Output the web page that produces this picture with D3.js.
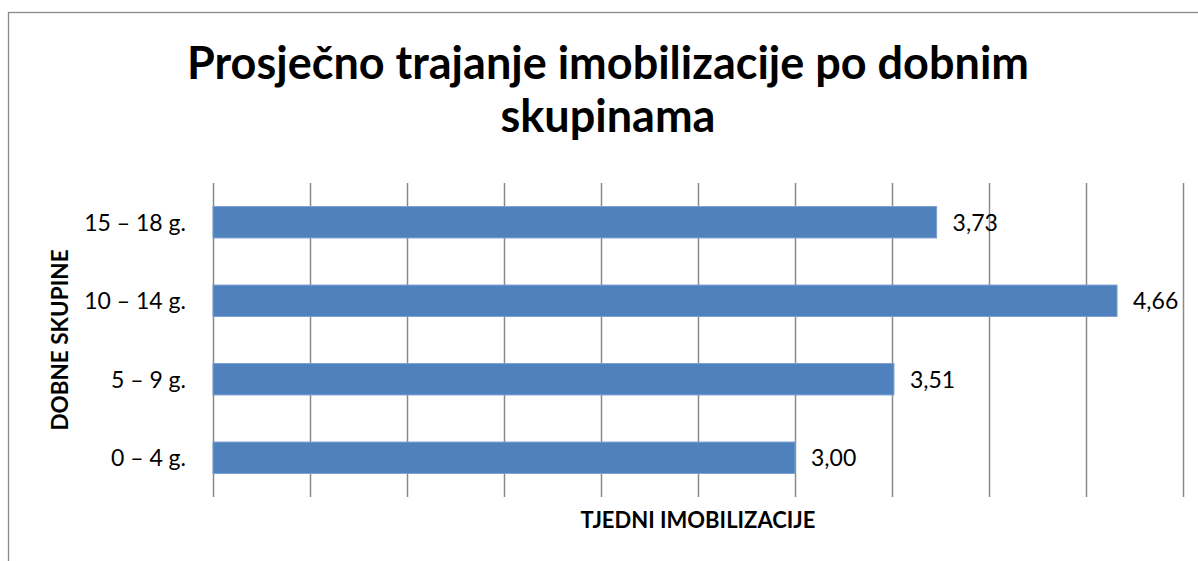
<!DOCTYPE html>
<html>
<head>
<meta charset="utf-8">
<script src="https://cdn.jsdelivr.net/npm/d3@7"></script>
<style>
  html, body { margin: 0; padding: 0; background: #fff; }
  svg { display: block; }
  text { font-family: Lato, "Open Sans", sans-serif; fill: #000; }
</style>
</head>
<body>
<svg id="chart" width="1198" height="561"></svg>
<script>
const categories = ["15 – 18 g.", "10 – 14 g.", "5 – 9 g.", "0 – 4 g."];
const values = [3.73, 4.66, 3.51, 3.00];
const gridTicks = [0, 0.5, 1, 1.5, 2, 2.5, 3, 3.5, 4, 4.5, 5];
const titleLines = ["Prosječno trajanje imobilizacije po dobnim", "skupinama"];
const xTitle = "TJEDNI IMOBILIZACIJE";
const yTitle = "DOBNE SKUPINE";

const svg = d3.select("#chart");
const plot = { left: 213, right: 1183, top: 183, bottom: 497 };

// outer frame
svg.append("rect")
  .attr("x", 8.5).attr("y", 12.5)
  .attr("width", 1300).attr("height", 700)
  .attr("fill", "none").attr("stroke", "#8a8a8a").attr("stroke-width", 1.3);

const x = d3.scaleLinear().domain([0, 5]).range([plot.left, plot.right]);
const y = d3.scaleBand().domain(categories).range([plot.top, plot.bottom]).paddingInner(0.6).paddingOuter(0.3);

// gridlines
svg.append("g").selectAll("line").data(gridTicks).join("line")
  .attr("x1", d => Math.round(x(d)) + 0.5).attr("x2", d => Math.round(x(d)) + 0.5)
  .attr("y1", plot.top).attr("y2", plot.bottom)
  .attr("stroke", "#8a8a8a").attr("stroke-width", 1.5);

// bars
svg.append("g").selectAll("rect").data(categories).join("rect")
  .attr("x", x(0))
  .attr("y", d => y(d))
  .attr("width", (d, i) => x(values[i]) - x(0))
  .attr("height", y.bandwidth())
  .attr("fill", "#4f81bd")
  .attr("stroke", "#7a9fd2").attr("stroke-width", 1);

// value labels
svg.append("g").selectAll("text").data(categories).join("text")
  .attr("x", (d, i) => x(values[i]) + 16)
  .attr("y", d => y(d) + y.bandwidth() / 2)
  .attr("dy", "0.36em")
  .attr("font-size", 23)
  .text((d, i) => d3.format(".2f")(values[i]).replace(".", ","));

// category labels
svg.append("g").selectAll("text").data(categories).join("text")
  .attr("x", 186)
  .attr("y", d => y(d) + y.bandwidth() / 2)
  .attr("dy", "0.36em")
  .attr("text-anchor", "end")
  .attr("font-size", 23)
  .text(d => d);

// title
svg.append("g").selectAll("text").data(titleLines).join("text")
  .attr("x", 608)
  .attr("y", (d, i) => 79 + i * 53)
  .attr("text-anchor", "middle")
  .attr("font-size", 45)
  .attr("font-weight", "bold")
  .text(d => d);

// x axis title
svg.append("text")
  .attr("x", (plot.left + plot.right) / 2)
  .attr("y", 528)
  .attr("text-anchor", "middle")
  .attr("font-size", 22)
  .attr("font-weight", "bold")
  .text(xTitle);

// y axis title
svg.append("text")
  .attr("transform", `translate(68,${(plot.top + plot.bottom) / 2}) rotate(-90)`)
  .attr("text-anchor", "middle")
  .attr("font-size", 22.5)
  .attr("font-weight", "bold")
  .text(yTitle);
</script>
</body>
</html>
